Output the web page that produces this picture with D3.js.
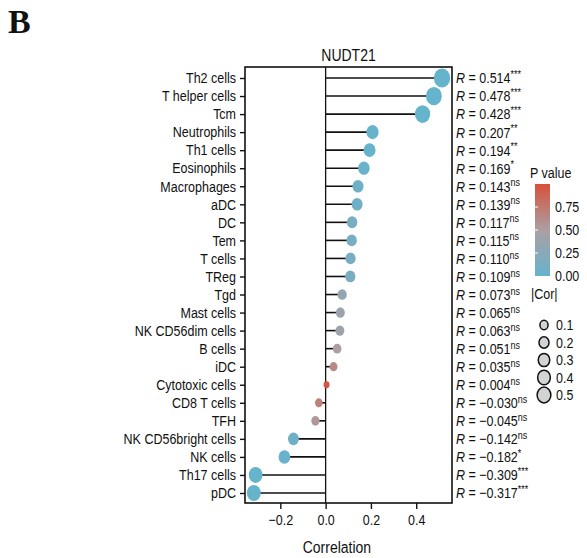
<!DOCTYPE html>
<html>
<head>
<meta charset="utf-8">
<script src="https://cdn.jsdelivr.net/npm/d3@7"></script>
<style>
  body { margin: 0; background: #fff; }
  text { font-family: "Liberation Sans", Arial, sans-serif; fill: #111; }
  .tall { transform-box: fill-box; transform-origin: center; transform: scaleY(1.18); }
</style>
</head>
<body>
<div id="chart"></div>
<script>
const width = 587, height = 558;

// cell types, top to bottom
const cells = ["Th2 cells", "T helper cells", "Tcm", "Neutrophils", "Th1 cells", "Eosinophils",
  "Macrophages", "aDC", "DC", "Tem", "T cells", "TReg", "Tgd", "Mast cells", "NK CD56dim cells",
  "B cells", "iDC", "Cytotoxic cells", "CD8 T cells", "TFH", "NK CD56bright cells", "NK cells",
  "Th17 cells", "pDC"]
const cors = [0.514, 0.478, 0.428, 0.207, 0.194, 0.169, 0.143, 0.139, 0.117, 0.115, 0.110, 0.109,
  0.073, 0.065, 0.063, 0.051, 0.035, 0.004, -0.030, -0.045, -0.142, -0.182, -0.309, -0.317]
// p values
const pvals = [0.0001, 0.0001, 0.0001, 0.005, 0.009, 0.023, 0.055, 0.063, 0.118, 0.124, 0.14, 0.145,
  0.33, 0.39, 0.40, 0.50, 0.64, 0.96, 0.69, 0.55, 0.057, 0.015, 0.0001, 0.0001]
const stars = ["***", "***", "***", "**", "**", "*", "ns", "ns", "ns", "ns", "ns", "ns",
  "ns", "ns", "ns", "ns", "ns", "ns", "ns", "ns", "ns", "*", "***", "***"]

const xTicks = [-0.2, 0, 0.2, 0.4]
const pTicks = [0, 0.25, 0.5, 0.75]
const corLegend = [0.1, 0.2, 0.3, 0.4, 0.5]

const data = cells.map((c, i) => ({ cell: c, cor: cors[i], p: pvals[i], star: stars[i] }))

const box = { left: 245, right: 452, top: 67, bottom: 503 }

const x = d3.scaleLinear().domain([-0.356, 0.558]).range([box.left, box.right])
const y = d3.scalePoint().domain(cells).range([78, 493])
const r = d3.scaleSqrt().domain([0, 0.52]).range([2.5, 8.2])
const color = d3.scaleLinear().domain([0, 0.5, 1]).range(["#66b3cc", "#ab9fa3", "#d8503a"])
const stretch = 1.15

const svg = d3.select("#chart").append("svg")
  .attr("width", width)
  .attr("height", height)

svg.append("text")
  .attr("x", 8).attr("y", 33)
  .style("font-family", "'Liberation Serif', 'Times New Roman', serif")
  .style("font-weight", "bold")
  .style("font-size", "34px")
  .text("B")

svg.append("text")
  .attr("class", "tall")
  .attr("x", (box.left + box.right) / 2).attr("y", 60)
  .attr("text-anchor", "middle")
  .style("font-size", "14px")
  .text("NUDT21")

// zero line
svg.append("line")
  .attr("x1", x(0)).attr("x2", x(0))
  .attr("y1", box.top).attr("y2", box.bottom)
  .attr("stroke", "#111").attr("stroke-width", 1.3)

// stems
svg.append("g").selectAll("line")
  .data(data)
  .join("line")
  .attr("x1", x(0)).attr("x2", d => x(d.cor))
  .attr("y1", d => y(d.cell)).attr("y2", d => y(d.cell))
  .attr("stroke", "#111").attr("stroke-width", 1.6)

// dots
svg.append("g").selectAll("ellipse")
  .data(data)
  .join("ellipse")
  .attr("cx", d => x(d.cor))
  .attr("cy", d => y(d.cell))
  .attr("rx", d => r(Math.abs(d.cor)))
  .attr("ry", d => r(Math.abs(d.cor)) * stretch)
  .attr("fill", d => color(d.p))

// frame
svg.append("rect")
  .attr("x", box.left).attr("y", box.top)
  .attr("width", box.right - box.left).attr("height", box.bottom - box.top)
  .attr("fill", "none").attr("stroke", "#111").attr("stroke-width", 1.6)

const yAxis = svg.append("g")
  .attr("transform", `translate(${box.left},0)`)
  .call(d3.axisLeft(y).tickSize(5).tickPadding(4))
yAxis.select(".domain").remove()
yAxis.selectAll("line").attr("stroke", "#111").attr("stroke-width", 1.4)
yAxis.selectAll("text").attr("class", "tall").style("font-size", "12.5px").attr("fill", "#111")
  .style("font-family", "'Liberation Sans', Arial, sans-serif")

const xAxis = svg.append("g")
  .attr("transform", `translate(0,${box.bottom})`)
  .call(d3.axisBottom(x).tickValues(xTicks).tickSize(6).tickPadding(6)
    .tickFormat(d => d3.format(".1f")(d).replace("-", "\u2212")))
xAxis.select(".domain").remove()
xAxis.selectAll("line").attr("stroke", "#111").attr("stroke-width", 1.4)
xAxis.selectAll("text").attr("class", "tall").style("font-size", "12.5px").attr("fill", "#111")
  .style("font-family", "'Liberation Sans', Arial, sans-serif")

svg.append("text")
  .attr("class", "tall")
  .attr("x", x(0.05)).attr("y", 552)
  .attr("text-anchor", "middle")
  .style("font-size", "14px")
  .text("Correlation")

// R labels on the right
const lab = svg.append("g").selectAll("text")
  .data(data)
  .join("text")
  .attr("class", "tall")
  .attr("x", 456)
  .attr("y", d => y(d.cell))
  .attr("dy", "0.36em")
  .style("font-size", "12.5px")
lab.append("tspan").style("font-style", "italic").text("R")
lab.append("tspan").text(d => " = " + d3.format(".3f")(d.cor).replace("-", "\u2212"))
lab.append("tspan")
  .attr("dy", "-0.5em")
  .style("font-size", "9px")
  .text(d => d.star)

// P value legend
svg.append("text").attr("class", "tall").attr("x", 530).attr("y", 177)
  .style("font-size", "12.5px").text("P value")

const grad = svg.append("defs").append("linearGradient")
  .attr("id", "pgrad").attr("x1", 0).attr("x2", 0).attr("y1", 1).attr("y2", 0)
grad.selectAll("stop")
  .data(d3.range(0, 1.01, 0.1))
  .join("stop")
  .attr("offset", d => d)
  .attr("stop-color", d => color(d))

const pScale = d3.scaleLinear().domain([0, 1]).range([276, 184])
svg.append("rect")
  .attr("x", 535).attr("y", pScale(1))
  .attr("width", 15).attr("height", pScale(0) - pScale(1))
  .attr("fill", "url(#pgrad)")
svg.append("g").selectAll("line")
  .data(pTicks.slice(1))
  .join("line")
  .attr("x1", 535).attr("x2", 538)
  .attr("y1", d => pScale(d)).attr("y2", d => pScale(d))
  .attr("stroke", "#fff").attr("stroke-width", 1)
svg.append("g").selectAll("text")
  .data(pTicks)
  .join("text")
  .attr("class", "tall")
  .attr("x", 555).attr("y", d => pScale(d))
  .attr("dy", "0.36em")
  .style("font-size", "12.5px")
  .text(d => d3.format(".2f")(d))

// |Cor| legend
svg.append("text").attr("class", "tall").attr("x", 531).attr("y", 298)
  .style("font-size", "12.5px").text("|Cor|")
const sizeLeg = d3.scalePoint().domain(corLegend).range([325, 395])
const legR = d => r(d) * 0.9 - 0.4
const sl = svg.append("g").selectAll("g")
  .data(corLegend)
  .join("g")
  .attr("transform", d => `translate(544,${sizeLeg(d)})`)
sl.append("ellipse")
  .attr("rx", legR).attr("ry", d => legR(d) * stretch)
  .attr("fill", "#d3d3d3").attr("stroke", "#111").attr("stroke-width", 1.5)
sl.append("text")
  .attr("class", "tall")
  .attr("x", 12).attr("dy", "0.36em")
  .style("font-size", "12.5px")
  .text(d => d)
</script>
</body>
</html>
